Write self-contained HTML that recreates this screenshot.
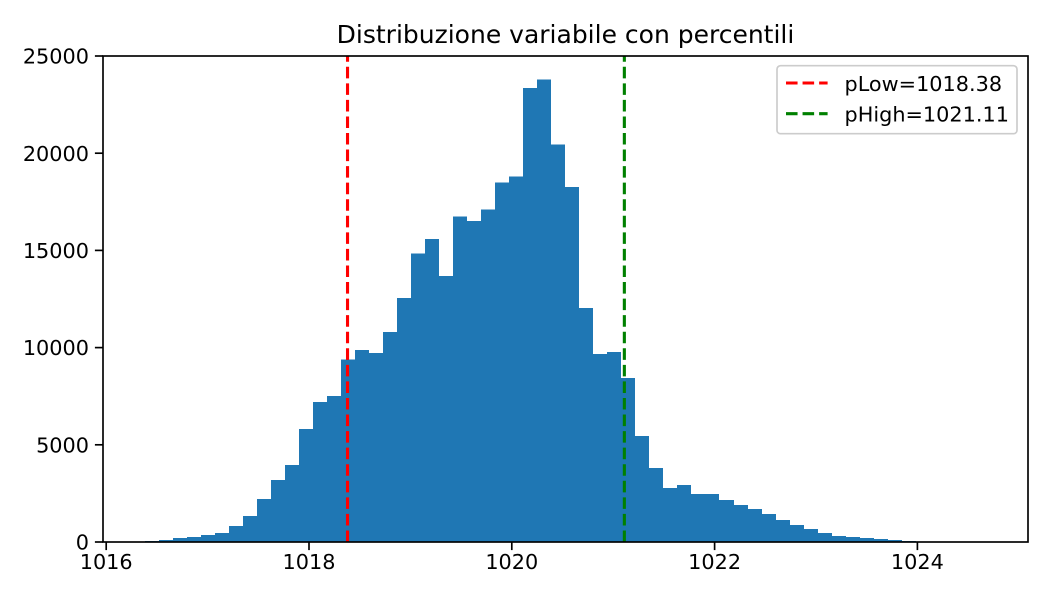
<!DOCTYPE html>
<html>
<head>
<meta charset="utf-8">
<title>Distribuzione variabile con percentili</title>
<style>
html,body{margin:0;padding:0;background:#fff;width:1050px;height:600px;overflow:hidden}
svg{display:block}
text{font-family:"DejaVu Sans","Liberation Sans",sans-serif;fill:#000}
</style>
</head>
<body>
<svg id="chart" width="1050" height="600" viewBox="0 0 1050 600" xmlns="http://www.w3.org/2000/svg"></svg>
<script>
const binCounts = [40,100,200,250,350,470,820,1330,2200,3180,3970,5800,7200,7500,
  9400,9880,9720,10800,12550,14850,15580,13680,16750,16500,17100,18500,18800,23350,23800,20450,18250,12030,9670,9770,8430,
  5450,3800,2780,2930,2470,2470,2160,1900,1700,1440,1130,870,670,470,300,260,200,150,100,40,30,20,10,5,2];
const binStart = 1016.382;
const binWidth = 0.1382;
const xTicks = [1016,1018,1020,1022,1024];
const yTicks = [0,5000,10000,15000,20000,25000];
const percentileNames = ['pLow','pHigh'];
const percentileValues = [1018.38,1021.11];
const percentileColors = ['#ff0000','#008000'];
const chartTitle = 'Distribuzione variabile con percentili';

const NS = 'http://www.w3.org/2000/svg';
const svg = document.getElementById('chart');
const plot = {left:103, right:1028, top:56, bottom:542};
const xScale = v => 106.2 + (v - 1016) * 101.4;
const yScale = v => plot.bottom - v / 25000 * (plot.bottom - plot.top);
function make(tag, attrs, parent, text) {
  const el = document.createElementNS(NS, tag);
  for (const k in attrs) el.setAttribute(k, attrs[k]);
  if (text !== undefined) el.textContent = text;
  (parent || svg).appendChild(el);
  return el;
}

// bars
const barGroup = make('g', {fill:'#1f77b4','shape-rendering':'crispEdges'});


binCounts.forEach((c, i) => {
  const x0 = Math.round(xScale(binStart + i * binWidth));
  const x1 = Math.round(xScale(binStart + (i + 1) * binWidth));
  const y = yScale(c);
  const bar = make('rect', {x:x0, y:y, width:x1 - x0, height:plot.bottom - y}, barGroup);
  
  
});

// percentile lines
percentileValues.forEach((v, i) => {
  const x = xScale(v);
  const line = make('line', {x1:x, x2:x, y1:plot.bottom, y2:plot.top, stroke:percentileColors[i], 'stroke-width':3.1, 'stroke-dasharray':'11.56 5'});
  
  
});

// ticks
const xAxis = make('g', {});


xTicks.forEach(t => {
  const x = xScale(t);
  const mark = make('line', {x1:x, x2:x, y1:plot.bottom, y2:plot.bottom + 8.1, stroke:'#000', 'stroke-width':1.67}, xAxis);
  
  
  const label = make('text', {x:x, y:569, 'text-anchor':'middle', 'font-size':'20.8px'}, xAxis, String(t));
  
  
});
const yAxis = make('g', {});


yTicks.forEach(t => {
  const y = yScale(t);
  const mark = make('line', {x1:plot.left - 8.1, x2:plot.left, y1:y, y2:y, stroke:'#000', 'stroke-width':1.67}, yAxis);
  
  
  const label = make('text', {x:89, y:y + 7.6, 'text-anchor':'end', 'font-size':'20.8px'}, yAxis, String(t));
  
  
});

// frame
const frame = make('rect', {x:plot.left, y:plot.top, width:plot.right - plot.left, height:plot.bottom - plot.top, fill:'none', stroke:'#000', 'stroke-width':1.67});



// title
const titleEl = make('text', {x:565.5, y:43, 'text-anchor':'middle', 'font-size':'25px'}, svg, chartTitle);



// legend
const legend = make('g', {});


const legendBox = make('rect', {x:777, y:65.7, width:240, height:68, rx:3.5, ry:3.5, fill:'#fff', 'fill-opacity':0.8, stroke:'#ccc', 'stroke-width':1.67}, legend);


percentileNames.forEach((n, i) => {
  const ly = 83 + i * 30.7;
  const swatch = make('line', {x1:786, x2:827.6, y1:ly, y2:ly, stroke:percentileColors[i], 'stroke-width':3.1, 'stroke-dasharray':'11.56 5'}, legend);
  
  
  const label = make('text', {x:844.5, y:ly + 8, 'font-size':'20.8px'}, legend, n + '=' + percentileValues[i].toFixed(2));
  
  
});
</script>
</body>
</html>
